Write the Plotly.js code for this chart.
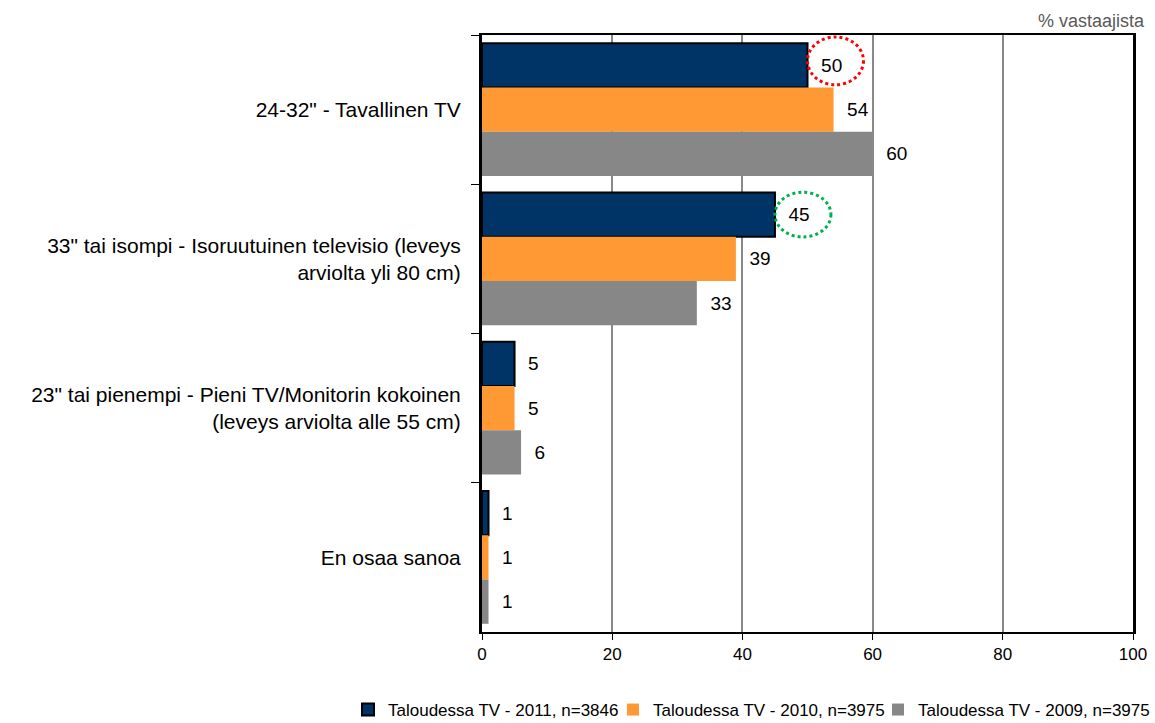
<!DOCTYPE html>
<html><head><meta charset="utf-8">
<script src="https://cdn.plot.ly/plotly-3.0.1.min.js"></script>
<style>body{margin:0;background:#fff}#c{width:1155px;height:723px}</style>
</head><body><div id="c"></div>
<script>
const categories = [
  '24-32" - Tavallinen TV',
  '33" tai isompi - Isoruutuinen televisio (leveys<br>arviolta yli 80 cm)',
  '23" tai pienempi - Pieni TV/Monitorin kokoinen<br>(leveys arviolta alle 55 cm)',
  'En osaa sanoa'
];
const seriesNames = ['Taloudessa TV - 2011, n=3846', 'Taloudessa TV - 2010, n=3975', 'Taloudessa TV - 2009, n=3975'];
const values2011 = [50, 45, 5, 1];
const values2010 = [54, 39, 5, 1];
const values2009 = [60, 33, 6, 1];
const colors = ['#003366', '#FF9933', '#878787'];
const xTicks = [0, 20, 40, 60, 80, 100];

const bargap = 0.11;
const barW = (1 - bargap) / 3;
const F = 'Liberation Sans, Arial, sans-serif';
const legendIds = ['legend', 'legend2', 'legend3'];
const legendTextLeft = [388, 653, 918];

const series = [values2011, values2010, values2009];
const traces = series.map((vals, i) => ({
  type: 'bar', orientation: 'h', name: seriesNames[i], legend: legendIds[i],
  x: vals, y: categories,
  marker: {color: colors[i], line: {color: '#000', width: i === 0 ? 2 : 0}},
  text: vals.map(v => '  ' + v), textposition: 'outside', cliponaxis: false,
  textfont: {family: F, size: 19, color: '#000'},
  hoverinfo: 'none'
}));

function ellipse(catIdx, val, color, dy, ry) {
  const cx = val + 4.3, cy = catIdx - barW + dy;
  return {type: 'circle', xref: 'x', yref: 'y', x0: cx - 4.3, x1: cx + 4.3, y0: cy - ry, y1: cy + ry,
    line: {color: color, width: 3, dash: 'dot'}};
}

function legendAt(i) {
  return {orientation: 'h', xref: 'container', yref: 'container', x: (legendTextLeft[i] - 40) / 1155, xanchor: 'left',
    y: 13 / 723, yanchor: 'middle', font: {size: 17, family: F}, itemwidth: 30, bgcolor: 'rgba(0,0,0,0)'};
}

const layout = {
  width: 1155, height: 723,
  margin: {l: 482, r: 22, t: 35, b: 91},
  paper_bgcolor: '#fff', plot_bgcolor: '#fff',
  barmode: 'group', bargap: bargap, bargroupgap: 0,
  font: {family: F, color: '#000'},
  xaxis: {range: [0, 100], tickvals: xTicks, ticks: 'outside', ticklen: 6, tickcolor: '#000',
    tickfont: {size: 17, family: F}, showgrid: true, gridcolor: '#888', gridwidth: 2,
    showline: true, linecolor: '#000', linewidth: 2, mirror: true, zeroline: false, fixedrange: true,
    automargin: false},
  yaxis: {autorange: 'reversed', ticks: 'outside', tickson: 'boundaries', ticklen: 8, tickcolor: '#000',
    tickfont: {size: 21, family: F}, showline: true, linecolor: '#000', linewidth: 3, mirror: true,
    showgrid: false, ticklabelstandoff: 14, automargin: false},
  showlegend: true,
  legend: legendAt(0), legend2: legendAt(1), legend3: legendAt(2),
  shapes: [ellipse(0, values2011[0], '#FF0000', -0.03, 0.16), ellipse(1, values2011[1], '#00B050', 0, 0.15)],
  annotations: [{text: '% vastaajista', xref: 'paper', yref: 'paper', x: 1.022, y: 1, xanchor: 'right', yanchor: 'bottom',
    yshift: 2, showarrow: false, font: {size: 18, color: '#595959', family: F}}]
};
Plotly.newPlot('c', traces, layout, {displayModeBar: false, staticPlot: true});
</script></body></html>
